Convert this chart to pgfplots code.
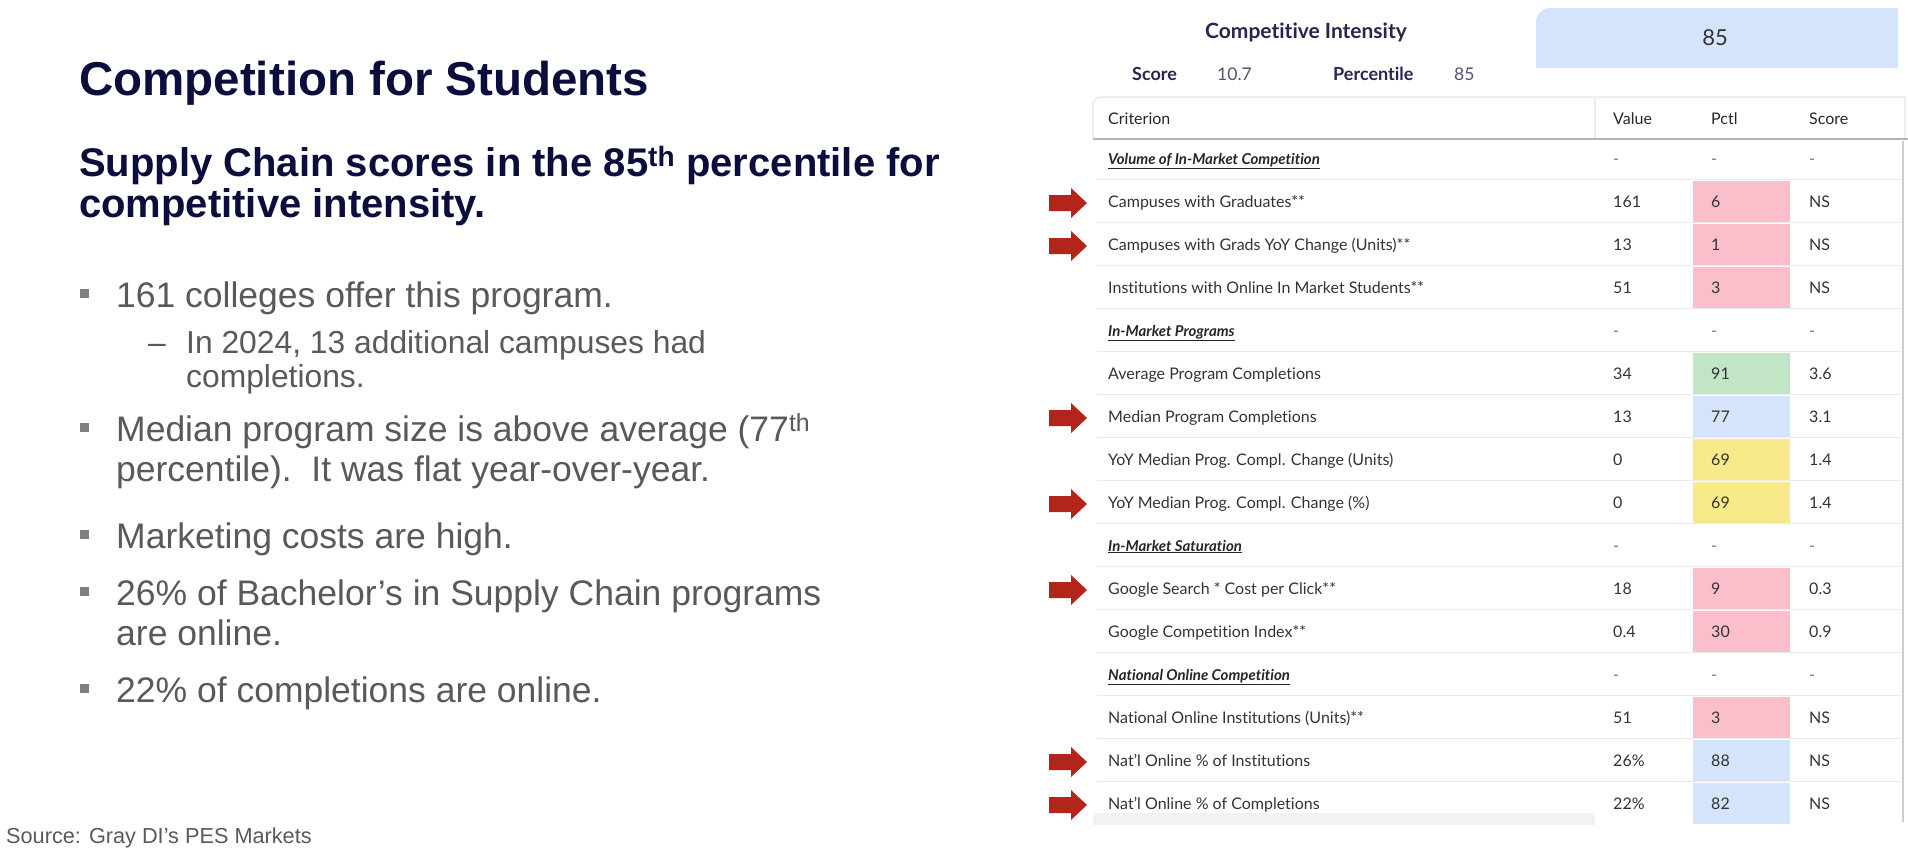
\documentclass[border=0pt]{standalone}
\usepackage{fontspec}
\setmainfont{Liberation Sans}
\newfontfamily\lato[Ligatures={TeX,NoCommon}]{Lato}
\usepackage{pgfplots}
\pgfplotsset{compat=1.18}
\definecolor{navy}{HTML}{0B0D3D}
\definecolor{bodygrey}{HTML}{595959}
\definecolor{bulgrey}{HTML}{7F7F7F}
\definecolor{tnavy}{HTML}{2B2350}
\definecolor{ttext}{HTML}{333333}
\definecolor{rowline}{HTML}{EBEBEB}
\definecolor{headline}{HTML}{B5B5B5}
\definecolor{arrowred}{HTML}{B3241A}
\definecolor{cpink}{HTML}{FBBFCB}
\definecolor{cgreen}{HTML}{C2E5C6}
\definecolor{cblue}{HTML}{D6E4FB}
\definecolor{cyellow}{HTML}{F8EA8A}

\tikzset{
  tcell/.style={anchor=base west, inner sep=0pt, text=ttext, font=\lato\fontsize{16}{18}\selectfont},
  slide/.style={anchor=base west, inner sep=0pt, text=bodygrey, font=\fontsize{35.5}{40}\selectfont},
  slidesub/.style={anchor=base west, inner sep=0pt, text=bodygrey, font=\fontsize{31.8}{36}\selectfont},
}

% one table row: index, criterion, value, pctl, score, cell colour
\newcommand{\trow}[6]{%
  \fill[#6] (1693,{137.5+43*#1}) rectangle (1790,{178.5+43*#1});
  \node[tcell] at (1108,{164+43*#1}) {#2};
  \node[tcell] at (1613,{164+43*#1}) {#3};
  \node[tcell] at (1711,{164+43*#1}) {#4};
  \node[tcell] at (1809,{164+43*#1}) {#5};
}
% section row
\newcommand{\srow}[2]{%
  \node[tcell, font=\lato\bfseries\itshape\fontsize{15}{18}\selectfont, text=black!85] at (1108,{164+43*#1}) {\underline{#2}};
  \node[tcell, text=black!55] at (1613,{164+43*#1}) {-};
  \node[tcell, text=black!55] at (1711,{164+43*#1}) {-};
  \node[tcell, text=black!55] at (1809,{164+43*#1}) {-};
}
% red arrow pointing at a row
\newcommand{\rarrow}[1]{%
  \fill[arrowred] (1049,{152+43*#1}) -- (1071,{152+43*#1}) -- (1071,{145+43*#1})
    -- (1087,{160+43*#1}) -- (1071,{175+43*#1}) -- (1071,{168+43*#1})
    -- (1049,{168+43*#1}) -- cycle;
}
\newcommand{\bul}[1]{\fill[bulgrey] (80,{#1-18}) rectangle (89,{#1-9});}

\begin{document}
\begin{tikzpicture}
\begin{axis}[
    at={(0,0)}, anchor=south west,
    width=1908pt, height=852pt, scale only axis,
    xmin=0, xmax=1908, ymin=0, ymax=852,
    y dir=reverse,
    hide axis, clip=false,
]
% ---- left panel ----
\node[anchor=base west, inner sep=0pt, text=navy, font=\bfseries\fontsize{47.5}{50}\selectfont] at (79,95) {Competition for Students};
\node[anchor=base west, inner sep=0pt, text=navy, font=\bfseries\fontsize{40}{41}\selectfont] at (79,176) {Supply Chain scores in the 85\textsuperscript{th} percentile for};
\node[anchor=base west, inner sep=0pt, text=navy, font=\bfseries\fontsize{40}{41}\selectfont] at (79,217) {competitive intensity.};

\bul{307}
\node[slide] at (116,307) {161 colleges offer this program.};
\node[slidesub] at (148,353) {--};
\node[slidesub] at (186,353) {In 2024, 13 additional campuses had};
\node[slidesub] at (186,387) {completions.};
\bul{441}
\node[slide] at (116,441) {Median program size is above average (77\textsuperscript{th}};
\node[slide] at (116,481) {percentile).\ \ It was flat year-over-year.};
\bul{548}
\node[slide] at (116,548) {Marketing costs are high.};
\bul{605}
\node[slide] at (116,605) {26\% of Bachelor’s in Supply Chain programs};
\node[slide] at (116,645) {are online.};
\bul{702}
\node[slide] at (116,702) {22\% of completions are online.};
\node[anchor=base west, inner sep=0pt, text=bodygrey, font=\fontsize{21.7}{24}\selectfont] at (6,843) {Source: Gray DI’s PES Markets};

% ---- right panel: header ----
\fill[cblue] (1536,68) -- (1536,22) arc[start angle=180, end angle=270, radius=14] -- (1898,8) -- (1898,68) -- cycle;
\node[inner sep=0pt, text=ttext, font=\lato\fontsize{22}{24}\selectfont] at (1715,38) {85};
\node[inner sep=0pt, text=tnavy, font=\lato\bfseries\fontsize{21}{24}\selectfont] at (1306,32) {Competitive Intensity};
\node[anchor=base west, inner sep=0pt, text=tnavy, font=\lato\bfseries\fontsize{18}{20}\selectfont] at (1132,80) {Score};
\node[anchor=base west, inner sep=0pt, text=tnavy!80, font=\lato\fontsize{17.5}{20}\selectfont] at (1217,80) {10.7};
\node[anchor=base west, inner sep=0pt, text=tnavy, font=\lato\bfseries\fontsize{18}{20}\selectfont] at (1333,80) {Percentile};
\node[anchor=base west, inner sep=0pt, text=tnavy!80, font=\lato\fontsize{17.5}{20}\selectfont] at (1454,80) {85};

% table frame
\draw[rowline, line width=1.5pt] (1093,139) -- (1093,105) arc[start angle=180, end angle=270, radius=8] -- (1905,97) -- (1905,139);
\draw[rowline, line width=1.5pt] (1595,97) -- (1595,139);
\node[tcell, text=black!85] at (1108,124) {Criterion};
\node[tcell, text=black!85] at (1613,124) {Value};
\node[tcell, text=black!85] at (1711,124) {Pctl};
\node[tcell, text=black!85] at (1809,124) {Score};
\draw[headline, line width=2pt] (1093,139) -- (1908,139);

% row separators
\pgfplotsinvokeforeach{0,...,14}{
  \draw[rowline, line width=1.5pt] (1097,{179.5+43*#1}) -- (1901,{179.5+43*#1});
}

% rows
\srow{0}{Volume of In-Market Competition}
\trow{1}{Campuses with Graduates**}{161}{6}{NS}{cpink}
\trow{2}{Campuses with Grads YoY Change (Units)**}{13}{1}{NS}{cpink}
\trow{3}{Institutions with Online In Market Students**}{51}{3}{NS}{cpink}
\srow{4}{In-Market Programs}
\trow{5}{Average Program Completions}{34}{91}{3.6}{cgreen}
\trow{6}{Median Program Completions}{13}{77}{3.1}{cblue}
\trow{7}{YoY Median Prog. Compl. Change (Units)}{0}{69}{1.4}{cyellow}
\trow{8}{YoY Median Prog. Compl. Change (\%)}{0}{69}{1.4}{cyellow}
\srow{9}{In-Market Saturation}
\trow{10}{Google Search * Cost per Click**}{18}{9}{0.3}{cpink}
\trow{11}{Google Competition Index**}{0.4}{30}{0.9}{cpink}
\srow{12}{National Online Competition}
\trow{13}{National Online Institutions (Units)**}{51}{3}{NS}{cpink}
\trow{14}{Nat’l Online \% of Institutions}{26\%}{88}{NS}{cblue}
\trow{15}{Nat’l Online \% of Completions}{22\%}{82}{NS}{cblue}

% scrollbars
\fill[black!5] (1093,813) rectangle (1595,825);
\draw[black!20, line width=2pt] (1903,141) -- (1903,822);

% arrows
\rarrow{1}
\rarrow{2}
\rarrow{6}
\rarrow{8}
\rarrow{10}
\rarrow{14}
\rarrow{15}
\end{axis}
\pgfresetboundingbox
\path[use as bounding box] (0,0) rectangle (1908pt,852pt);
\end{tikzpicture}
\end{document}
